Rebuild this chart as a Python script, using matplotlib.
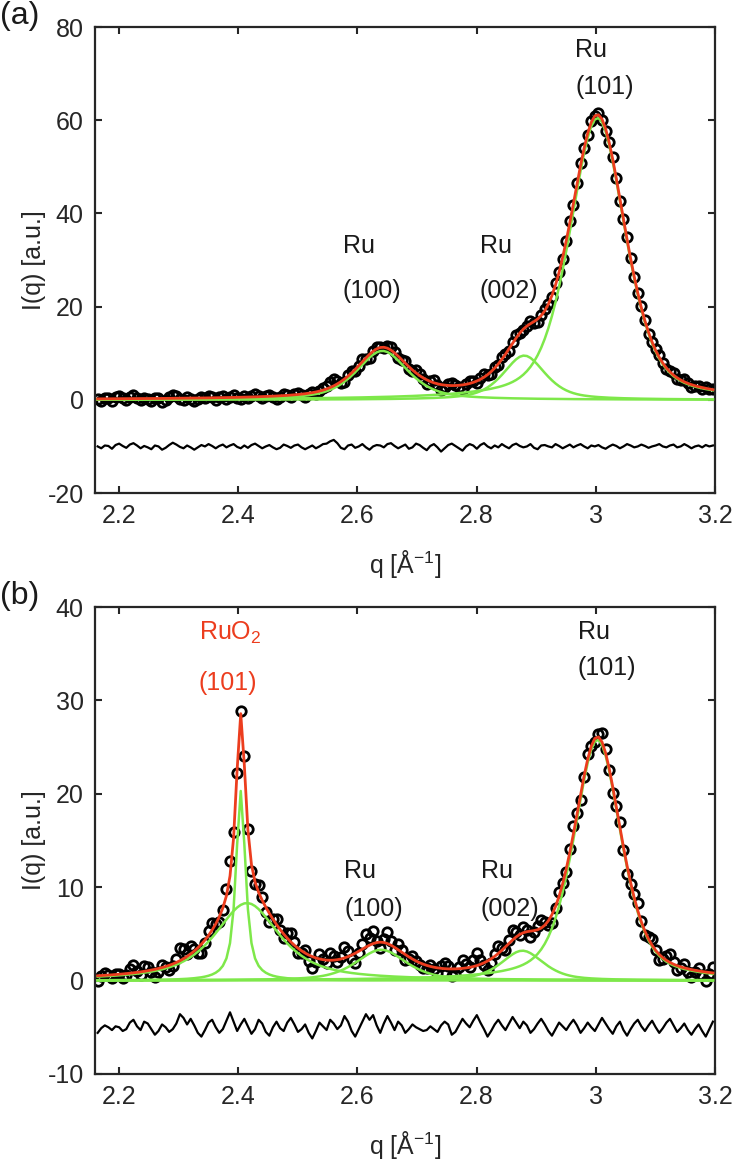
import numpy as np
import matplotlib
matplotlib.use("Agg")
import matplotlib.pyplot as plt

plt.rcParams['font.family'] = ['Liberation Sans', 'DejaVu Sans']
plt.rcParams['mathtext.fontset'] = 'custom'
plt.rcParams['mathtext.rm'] = 'Liberation Sans'
plt.rcParams['mathtext.it'] = 'Liberation Sans'
plt.rcParams['axes.unicode_minus'] = False

# ---- q grid of the measurement ----
q_start = 2.1645
q_step = 0.006
n_points = 173

# ---- panel (a): fitted pseudo-Voigt components (center, height, HWHM, Lorentz fraction) ----
a_labels = ["Ru (100)", "Ru (002)", "Ru (101)"]
a_centers = [2.642, 2.880, 3.003]
a_heights = [10.5, 9.5, 60.5]
a_hwhm = [0.051, 0.042, 0.055]
a_eta = [0.6, 0.6, 0.45]
a_resid_offset = -10.0
a_resid = [
    0.0, -0.4, 0.2, 0.1, -0.5, 0.3, 0.6, 0.1, -0.3, 0.4, 0.7, 0.2, -0.4, 0.1, -0.2, -0.6, 0.2, 0.0, -0.7, -0.3,
    0.3, 0.8, 0.4, -0.1, -0.4, 0.2, -0.2, -0.7, -0.2, 0.3, 0.0, 0.5, 0.1, -0.4, 0.1, 0.4, -0.2, 0.2, 0.5, -0.1,
    -0.4, 0.2, -0.3, 0.3, 0.6, 0.1, -0.4, 0.0, 0.3, -0.2, -0.6, -0.3, 0.4, 0.1, -0.3, 0.2, 0.4, -0.2, -0.6, -0.2,
    0.2, -0.4, 0.0, 0.5, 0.6, 1.1, 1.4, 0.7, -0.3, -0.6, 0.2, 0.4, -0.3, 0.0, 0.5, -0.2, -0.7, 0.0, 0.3, 0.2,
    -0.2, 0.5, 0.7, 0.1, -0.4, 0.0, 0.4, -0.5, -0.2, 0.6, 0.3, -0.3, -0.8, 0.1, 0.5, -0.2, -1.1, -0.4, 0.3, 0.6,
    0.1, -0.4, -0.9, 0.0, 0.5, 0.2, -0.5, 0.3, 0.7, 0.0, -0.4, 0.2, -0.2, 0.5, 0.0, -0.4, 0.3, 0.6, 0.1, -0.2,
    0.0, 0.5, -0.3, -0.6, 0.2, 0.3, 0.0, -0.2, 0.5, 0.1, -0.4, 0.0, 0.4, -0.2, 0.2, 0.5, 0.0, -0.4, 0.2, 0.0,
    0.3, -0.2, -0.5, 0.0, 0.4, 0.1, -0.4, 0.0, 0.5, 0.2, -0.2, 0.0, 0.4, 0.1, -0.3, 0.0, 0.2, 0.5, 0.0, -0.2,
    0.2, 0.4, -0.2, 0.0, 0.5, 0.1, -0.4, 0.0, 0.2, -0.2, 0.3, 0.0, 0.2,
]

# ---- panel (b) ----
b_labels = ["RuO2 (101) sharp", "RuO2 (101) broad", "Ru (100)", "Ru (002)", "Ru (101)"]
b_centers = [2.4045, 2.415, 2.640, 2.877, 3.003]
b_heights = [20.3, 8.3, 3.3, 3.2, 25.8]
b_hwhm = [0.0095, 0.065, 0.050, 0.042, 0.047]
b_eta = [0.85, 0.8, 0.6, 0.6, 0.5]
b_resid_offset = -5.0
b_resid = [
    -0.6, -0.1, 0.2, 0.0, -0.3, 0.1, 0.0, -0.4, -0.2, 0.5, 0.8, 0.1, -0.3, 0.6, 0.4, -0.2, -0.8, -0.4, 0.3, 0.0,
    -0.5, -0.2, 0.4, 1.4, 1.0, 0.3, 0.9, 0.2, -0.6, -1.0, -0.3, 0.5, 0.8, 0.0, -0.6, -0.2, 0.7, 1.6, 0.6, -0.4,
    0.3, 0.9, 0.1, -0.7, -0.2, 0.8, 0.4, -0.5, -0.9, 0.0, 0.6, -0.1, -0.4, 0.5, 1.0, 0.3, -0.5, -0.2, 0.3, -0.6,
    -1.2, -0.4, 0.5, 0.1, -0.3, 0.8, 0.4, -0.2, 0.2, 1.2, 0.6, -0.4, -1.0, -0.2, 0.6, 1.4, 0.8, 1.3, 0.2, -0.6,
    0.4, 1.2, 0.5, -0.3, 0.6, 0.2, -0.6, -0.2, 0.3, 0.0, -0.2, -0.4, -0.3, 0.1, -0.2, -0.5, 0.2, 0.6, 0.3, -0.8,
    -0.5, 0.2, 0.9, 0.4, 0.0, 0.7, 1.3, 0.5, -0.2, -1.0, -0.4, 0.3, 0.8, 0.2, -0.3, 0.4, 1.1, 0.5, -0.1, 0.6,
    0.2, -0.6, -0.2, 0.4, 0.9, 0.3, -0.4, -0.9, -0.2, 0.5, 0.1, -0.3, 0.3, 0.8, 0.2, -0.6, -0.1, 0.5, 0.0, -0.4,
    0.3, 1.0, 0.4, -0.2, -0.7, 0.1, 0.6, -0.3, -0.9, -0.2, 0.4, 0.8, 0.1, -0.4, 0.2, 0.7, 0.0, -0.6, -0.1, 0.5,
    0.9, 0.2, -0.5, -0.1, 0.4, -0.3, -0.8, -0.2, 0.3, -0.4, -1.0, -0.2, 0.6,
]

# ---- axes settings ----
x_lim = (2.16, 3.2)
x_ticks = [2.2, 2.4, 2.6, 2.8, 3.0, 3.2]
x_ticklabels = ["2.2", "2.4", "2.6", "2.8", "3", "3.2"]
a_ylim = (-20, 80)
a_yticks = [-20, 0, 20, 40, 60, 80]
b_ylim = (-10, 40)
b_yticks = [-10, 0, 10, 20, 30, 40]

RED = '#ec3d1e'
GREEN = '#7ee84a'
AX = '#262626'


def pseudo_voigt(q, A, c, w, eta):
    x = ((q - c) / w) ** 2
    return A * (eta / (1.0 + x) + (1.0 - eta) * np.exp(-np.log(2.0) * x))


q = q_start + q_step * np.arange(n_points)

fig = plt.figure(figsize=(7.34, 11.75), dpi=100)
ax_a = fig.add_axes([0.1294, 0.5804, 0.8447, 0.3966])
ax_b = fig.add_axes([0.1294, 0.0860, 0.8447, 0.3974])


def draw(ax, centers, heights, hwhm, eta, resid, offset, ylim, yticks):
    comps = [pseudo_voigt(q, A, c, w, e) for A, c, w, e in zip(heights, centers, hwhm, eta)]
    fit = np.sum(comps, axis=0)
    data = fit + np.array(resid)
    ax.plot(q, data, linestyle='none', marker='o', markersize=6.8,
            markerfacecolor='none', markeredgecolor='black', markeredgewidth=2.0, zorder=2)
    for comp in comps:
        ax.plot(q, comp, color=GREEN, lw=1.8, zorder=3)
    ax.plot(q, fit, color=RED, lw=2.0, zorder=4)
    ax.plot(q, offset + np.array(resid), color='black', lw=1.6, zorder=3)
    ax.set_xlim(*x_lim)
    ax.set_ylim(*ylim)
    ax.set_xticks(x_ticks)
    ax.set_xticklabels(x_ticklabels)
    ax.set_yticks(yticks)
    ax.tick_params(direction='in', length=5, width=1.5, colors=AX, labelsize=18,
                   top=True, right=True, pad=8)
    for s in ax.spines.values():
        s.set_linewidth(1.6)
        s.set_color(AX)
    ax.set_xlabel('q [Å$^{-1}$]', fontsize=18, color=AX, labelpad=14)
    ax.set_ylabel('I(q) [a.u.]', fontsize=18, color=AX, labelpad=1)


draw(ax_a, a_centers, a_heights, a_hwhm, a_eta, a_resid, a_resid_offset, a_ylim, a_yticks)
draw(ax_b, b_centers, b_heights, b_hwhm, b_eta, b_resid, b_resid_offset, b_ylim, b_yticks)

tk = dict(fontsize=18, ha='left', va='center', color='#1a1a1a', zorder=6)
# panel (a) annotations
ax_a.text(2.576, 33.0, 'Ru', **tk)
ax_a.text(2.576, 23.4, '(100)', **tk)
ax_a.text(2.805, 33.0, 'Ru', **tk)
ax_a.text(2.805, 23.4, '(002)', **tk)
ax_a.text(2.966, 75.0, 'Ru', **tk)
ax_a.text(2.966, 67.2, '(101)', **tk)
# panel (b) annotations
tr = dict(tk)
tr['color'] = RED
ax_b.text(2.334, 37.2, 'RuO$_2$', **tr)
ax_b.text(2.334, 31.9, '(101)', **tr)
ax_b.text(2.578, 11.7, 'Ru', **tk)
ax_b.text(2.578, 7.7, '(100)', **tk)
ax_b.text(2.807, 11.7, 'Ru', **tk)
ax_b.text(2.807, 7.7, '(002)', **tk)
ax_b.text(2.970, 37.3, 'Ru', **tk)
ax_b.text(2.970, 33.5, '(101)', **tk)

fig.text(0.0, 0.986, '(a)', fontsize=23, ha='left', va='center', color='#1a1a1a')
fig.text(0.0, 0.493, '(b)', fontsize=23, ha='left', va='center', color='#1a1a1a')

fig.savefig('out.png', dpi=100)
